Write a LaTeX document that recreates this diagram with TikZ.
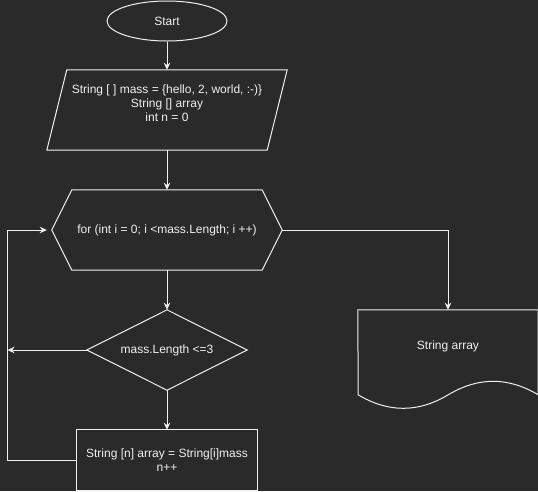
\documentclass[tikz,border=0pt]{standalone}
\usepackage{fontspec}
\setmainfont{Liberation Sans}
\usetikzlibrary{arrows.meta,shapes.geometric}
\definecolor{bg}{HTML}{2A2A2A}
\definecolor{ink}{HTML}{F0F0F0}
\begin{document}
\begin{tikzpicture}[x=1pt,y=-1pt,
  every node/.style={font=\fontsize{12}{14.2}\selectfont, text=ink, align=center, inner sep=0pt},
  outline/.style={draw=ink, line width=1pt, line join=miter},
  flow/.style={draw=ink, line width=1pt, -{Stealth[length=7pt,width=6.5pt,inset=2.2pt]}},
  frame/.style 2 args={rectangle, minimum width=#1, minimum height=#2}]

% canvas
\path[use as bounding box, fill=bg] (0,0) rectangle (538,491);

% blocks (text holders; outlines drawn below)
\node[ellipse, outline, minimum width=120, minimum height=40] (start) at (167,21) {Start};
\node[frame={240}{80}, label={[yshift=7pt]center:{String [ ] mass = \{hello, 2, world, :-)\}\\String [] array\\int n = 0}}] (init) at (167,110) {};
\node[frame={230}{80}] (loop) at (167,230) {for (int i = 0; i <mass.Length; i ++)};
\node[frame={160}{80}] (cond) at (167,350) {mass.Length <=3};
\node[frame={180}{60}] (body) at (167,460) {String [n] array = String[i]mass\\n++};
\node[frame={180}{100}, label={[yshift=14pt]center:String array}] (out) at (448,360) {};

% outlines
\path[outline] ([xshift=20pt]init.north west) -- (init.north east)
  -- ([xshift=-20pt]init.south east) -- (init.south west) -- cycle;
\path[outline] ([xshift=20pt]loop.north west) -- ([xshift=-20pt]loop.north east)
  -- (loop.east) -- ([xshift=-20pt]loop.south east) -- ([xshift=20pt]loop.south west)
  -- (loop.west) -- cycle;
\path[outline] (cond.north) -- (cond.east) -- (cond.south) -- (cond.west) -- cycle;
\path[outline] (body.north west) rectangle (body.south east);
\path[outline] (out.north west) -- (out.north east) -- ++(0,85)
  .. controls +(-30,-18) and +(30,-18) .. ++(-90,0)
  .. controls +(-30,18) and +(30,18) .. ++(-90,0) -- cycle;

% connectors
\coordinate (rail) at (7.5,350);
\coordinate (entry) at ([xshift=-5pt]loop.west);
\draw[flow] (start) -- (init);
\draw[flow] (init) -- (loop);
\draw[flow] (loop) -- (cond);
\draw[flow] (cond) -- (body);
\draw[flow] (loop.east) -| (out.north);
\draw[flow] (cond.west) -- (rail |- cond.west);
\draw[flow] (body.west) -- (rail |- body.west) -- (rail |- entry) -- (entry);
\end{tikzpicture}
\end{document}
